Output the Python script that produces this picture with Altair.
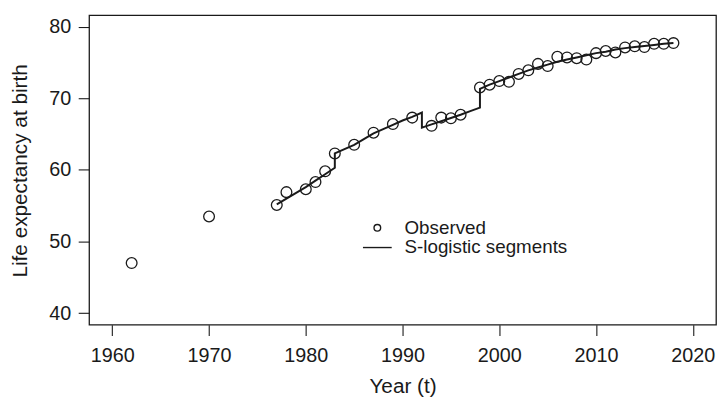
import altair as alt
import pandas as pd

# Observed life expectancy
obs_years = [1962, 1970, 1977, 1978, 1980, 1981, 1982, 1983, 1985, 1987, 1989, 1991,
             1993, 1994, 1995, 1996, 1998, 1999, 2000, 2001, 2002, 2003, 2004, 2005,
             2006, 2007, 2008, 2009, 2010, 2011, 2012, 2013, 2014, 2015, 2016, 2017, 2018]
obs_values = [47.0, 53.5, 55.1, 56.9, 57.3, 58.3, 59.8, 62.3, 63.5, 65.2, 66.4, 67.3,
              66.15, 67.3, 67.2, 67.7, 71.5, 71.9, 72.4, 72.3, 73.4, 73.9, 74.8, 74.5,
              75.8, 75.7, 75.6, 75.4, 76.3, 76.6, 76.4, 77.1, 77.25, 77.15, 77.6, 77.6, 77.7]

# Fitted S-logistic segments (one continuous polyline with jumps)
seg1_years = [1977, 1978, 1979, 1980, 1981, 1982, 1983]
seg1_values = [55.2, 56.0, 56.8, 57.6, 58.5, 59.4, 60.3]
seg2_years = [1983, 1984, 1985, 1986, 1987, 1988, 1989, 1990, 1991, 1992]
seg2_values = [62.3, 62.9, 63.5, 64.3, 65.1, 65.7, 66.3, 66.9, 67.4, 68.0]
seg3_years = [1992, 1993, 1994, 1995, 1996, 1997, 1998]
seg3_values = [65.9, 66.35, 66.8, 67.25, 67.7, 68.2, 68.7]
seg4_years = [1998, 1999, 2000, 2001, 2002, 2003, 2004, 2005, 2006, 2007, 2008,
              2009, 2010, 2011, 2012, 2013, 2014, 2015, 2016, 2017, 2018]
seg4_values = [71.3, 71.9, 72.4, 72.9, 73.4, 73.9, 74.3, 74.7, 75.1, 75.4, 75.7,
               76.0, 76.3, 76.5, 76.8, 77.0, 77.15, 77.3, 77.45, 77.6, 77.7]

legend_labels = ["Observed", "S-logistic segments"]
x_ticks = [1960, 1970, 1980, 1990, 2000, 2010, 2020]
y_ticks = [40, 50, 60, 70, 80]

INK = "#1a1a1a"
FONT = "Liberation Sans"

obs_df = pd.DataFrame({"year": obs_years, "value": obs_values})
fit_years = seg1_years + seg2_years + seg3_years + seg4_years
fit_values = seg1_values + seg2_values + seg3_values + seg4_values
fit_df = pd.DataFrame({"year": fit_years, "value": fit_values,
                       "order": list(range(len(fit_years)))})
legend_df = pd.DataFrame({"series": legend_labels,
                          "year": [float("nan")] * 2,
                          "value": [float("nan")] * 2})

xscale = alt.Scale(domain=[1957.6, 2022.4], nice=False, zero=False)
yscale = alt.Scale(domain=[38.4, 81.6], nice=False, zero=False)

xaxis = alt.Axis(values=x_ticks, format="d", title="Year (t)", tickSize=11,
                 labelPadding=10, titleX=317, titleY=68.5, titleBaseline="alphabetic",
                 titleAnchor="middle", titleAlign="center")
yaxis = alt.Axis(values=y_ticks, title="Life expectancy at birth", tickSize=11,
                 labelPadding=7.5, titleX=-63.5, titleY=157, titleAngle=270,
                 titleBaseline="alphabetic", titleAnchor="middle", titleAlign="center")

points = alt.Chart(obs_df).mark_point(
    filled=False, size=118, strokeWidth=1.3, color=INK, opacity=1
).encode(
    x=alt.X("year:Q", scale=xscale, axis=xaxis),
    y=alt.Y("value:Q", scale=yscale, axis=yaxis),
)

line = alt.Chart(fit_df).mark_line(strokeWidth=2, color=INK).encode(
    x="year:Q", y="value:Q", order="order:Q"
)

leg = alt.Legend(title=None, orient="none", legendX=282, legendY=205.5, padding=0,
                 rowPadding=-8, labelOffset=18, labelFontSize=19, labelFont=FONT,
                 labelColor=INK, labelLimit=0, symbolStrokeWidth=1.4,
                 symbolStrokeColor=INK)

legend_layer = alt.Chart(legend_df).mark_point(
    filled=False, color=INK, strokeWidth=1.4, opacity=1
).encode(
    x="year:Q", y="value:Q",
    shape=alt.Shape("series:N", scale=alt.Scale(domain=legend_labels,
                                                range=["circle", "M-3.5,0H3.5"]),
                    legend=leg),
    size=alt.Size("series:N", scale=alt.Scale(domain=legend_labels, range=[45, 69]),
                  legend=leg),
)

chart = alt.layer(line, points, legend_layer).properties(
    width=634, height=313,
    autosize=alt.AutoSizeParams(type="none"),
    padding={"left": 82, "top": 5, "right": 1, "bottom": 80},
).configure_view(
    stroke=INK, strokeWidth=1.3
).configure_axis(
    domain=False, grid=False, tickColor=INK, tickWidth=1.1,
    labelColor=INK, titleColor=INK, labelFont=FONT, titleFont=FONT,
    labelFontSize=20, titleFontSize=21, titleFontWeight="normal"
)

chart.save("out.html", embed_options={"renderer": "svg", "actions": False})
